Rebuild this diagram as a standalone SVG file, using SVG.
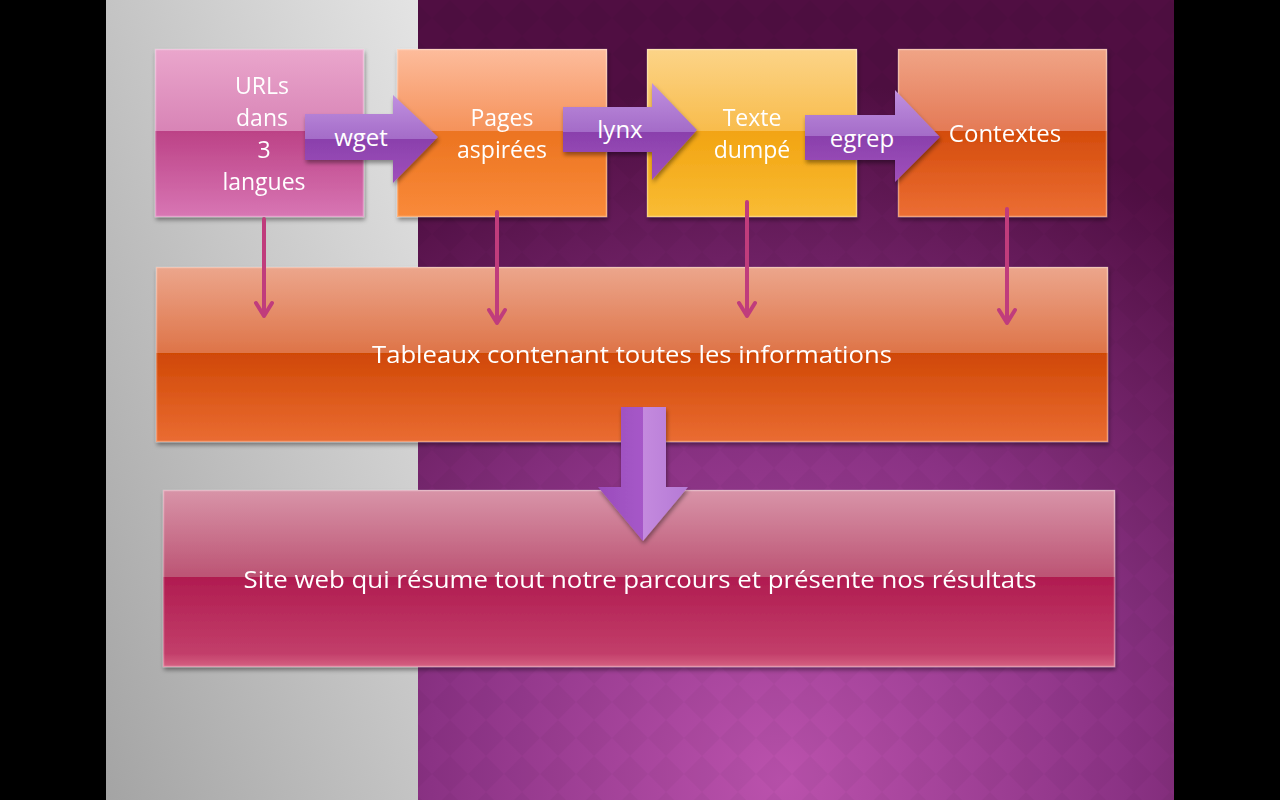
<svg xmlns="http://www.w3.org/2000/svg" width="1280" height="800" viewBox="0 0 1280 800">
<defs>
<style>
.t{font-family:"Open Sans","Lato","Liberation Sans",sans-serif;fill:#ffffff;text-anchor:middle;font-size:24px}
.t1{font-family:"Open Sans","Lato","Liberation Sans",sans-serif;fill:#ffffff;text-anchor:middle;font-size:23px}
.t2{font-family:"Open Sans","Lato","Liberation Sans",sans-serif;fill:#ffffff;text-anchor:middle;font-size:24px}
.conn{stroke:#c03c7c;stroke-width:4;fill:none;stroke-linecap:round;stroke-linejoin:round}
.edge{fill:none;stroke:#ffffff;stroke-opacity:0.35;stroke-width:1.5}
</style>
<linearGradient id="gray" x1="0" y1="1" x2="1" y2="0">
<stop offset="0" stop-color="#a4a4a4"/><stop offset="1" stop-color="#e4e4e4"/>
</linearGradient>
<radialGradient id="purp" cx="780" cy="780" r="700" gradientUnits="userSpaceOnUse">
<stop offset="0" stop-color="#bb52ad"/><stop offset="0.5" stop-color="#8a3284"/><stop offset="1" stop-color="#500e42"/>
</radialGradient>
<pattern id="diam" width="36" height="36" patternUnits="userSpaceOnUse">
<polygon points="18,0 36,18 18,36 0,18" fill="#000" fill-opacity="0.03"/>
</pattern>
<filter id="sh" x="-5%" y="-5%" width="110%" height="115%">
<feDropShadow dx="1" dy="3" stdDeviation="2" flood-color="#000" flood-opacity="0.4"/>
</filter>
<linearGradient id="pinkT" x1="0" y1="0" x2="0" y2="1"><stop offset="0" stop-color="#eaa6cc"/><stop offset="1" stop-color="#d884b6"/></linearGradient>
<linearGradient id="pinkB" x1="0" y1="0" x2="0" y2="1"><stop offset="0" stop-color="#bc4286"/><stop offset="1" stop-color="#d876b4"/></linearGradient>
<linearGradient id="orT" x1="0" y1="0" x2="0" y2="1"><stop offset="0" stop-color="#fdbc9c"/><stop offset="1" stop-color="#f5925a"/></linearGradient>
<linearGradient id="orB" x1="0" y1="0" x2="0" y2="1"><stop offset="0" stop-color="#ec7420"/><stop offset="1" stop-color="#f98a3a"/></linearGradient>
<linearGradient id="yeT" x1="0" y1="0" x2="0" y2="1"><stop offset="0" stop-color="#fcd488"/><stop offset="1" stop-color="#f8bc4c"/></linearGradient>
<linearGradient id="yeB" x1="0" y1="0" x2="0" y2="1"><stop offset="0" stop-color="#f2a412"/><stop offset="1" stop-color="#f9bc34"/></linearGradient>
<linearGradient id="rdT" x1="0" y1="0" x2="0" y2="1"><stop offset="0" stop-color="#f0a486"/><stop offset="1" stop-color="#e47a56"/></linearGradient>
<linearGradient id="rdB" x1="0" y1="0" x2="0" y2="1"><stop offset="0" stop-color="#d44c0c"/><stop offset="1" stop-color="#ec6e34"/></linearGradient>
<linearGradient id="tbT" x1="0" y1="0" x2="0" y2="1"><stop offset="0" stop-color="#eca68c"/><stop offset="1" stop-color="#de7448"/></linearGradient>
<linearGradient id="tbB" x1="0" y1="0" x2="0" y2="1"><stop offset="0" stop-color="#d04806"/><stop offset="1" stop-color="#ea6c32"/></linearGradient>
<linearGradient id="swT" x1="0" y1="0" x2="0" y2="1"><stop offset="0" stop-color="#d894a8"/><stop offset="1" stop-color="#bc5474"/></linearGradient>
<linearGradient id="swB" x1="0" y1="0" x2="0" y2="1"><stop offset="0" stop-color="#b01c50"/><stop offset="0.85" stop-color="#c23e6a"/><stop offset="1" stop-color="#d66282"/></linearGradient>
<linearGradient id="arrH" x1="0" y1="0" x2="0" y2="1"><stop offset="0" stop-color="#c090e0"/><stop offset="0.5" stop-color="#a46cc8"/><stop offset="0.5" stop-color="#8a40ac"/><stop offset="1" stop-color="#a050bc"/></linearGradient>
<linearGradient id="arrV" x1="0" y1="0" x2="1" y2="0"><stop offset="0" stop-color="#9a4cbc"/><stop offset="0.5" stop-color="#a658c8"/><stop offset="0.5" stop-color="#c48ade"/><stop offset="1" stop-color="#b57ad6"/></linearGradient>
</defs>

<rect x="0" y="0" width="1280" height="800" fill="#000"/>
<rect x="106" y="0" width="312" height="800" fill="url(#gray)"/>
<rect x="418" y="0" width="756" height="800" fill="url(#purp)"/>
<rect x="418" y="0" width="756" height="800" fill="url(#diam)"/>

<g id="node-urls" filter="url(#sh)">
<rect x="155" y="49" width="209" height="82" fill="url(#pinkT)"/>
<rect x="155" y="131" width="209" height="86" fill="url(#pinkB)"/>
<rect x="155.5" y="49.5" width="208" height="167" class="edge"/>
<text class="t1"><tspan x="262" y="94">URLs</tspan><tspan x="262" y="126">dans</tspan><tspan x="264" y="158">3</tspan><tspan x="264" y="190">langues</tspan></text>
</g>

<g id="node-pages" filter="url(#sh)">
<rect x="397" y="49" width="210" height="82" fill="url(#orT)"/>
<rect x="397" y="131" width="210" height="86" fill="url(#orB)"/>
<rect x="397.5" y="49.5" width="209" height="167" class="edge"/>
<text class="t1"><tspan x="502" y="126">Pages</tspan><tspan x="502" y="158">aspirées</tspan></text>
</g>

<g id="node-texte" filter="url(#sh)">
<rect x="647" y="49" width="210" height="82" fill="url(#yeT)"/>
<rect x="647" y="131" width="210" height="86" fill="url(#yeB)"/>
<rect x="647.5" y="49.5" width="209" height="167" class="edge"/>
<text class="t1"><tspan x="752" y="126">Texte</tspan><tspan x="752" y="158">dumpé</tspan></text>
</g>

<g id="node-contextes" filter="url(#sh)">
<rect x="898" y="49" width="209" height="82" fill="url(#rdT)"/>
<rect x="898" y="131" width="209" height="86" fill="url(#rdB)"/>
<rect x="898.5" y="49.5" width="208" height="167" class="edge"/>
<text class="t" x="1005" y="142">Contextes</text>
</g>

<g id="node-tableaux" filter="url(#sh)">
<rect x="156" y="267" width="952" height="86" fill="url(#tbT)"/>
<rect x="156" y="353" width="952" height="89" fill="url(#tbB)"/>
<rect x="156.5" y="267.5" width="951" height="174" class="edge"/>
<text class="t2" x="632" y="363" textLength="520" lengthAdjust="spacingAndGlyphs">Tableaux contenant toutes les informations</text>
</g>

<g id="node-site" filter="url(#sh)">
<rect x="163" y="490" width="952" height="87" fill="url(#swT)"/>
<rect x="163" y="577" width="952" height="90" fill="url(#swB)"/>
<rect x="163.5" y="490.5" width="951" height="176" class="edge"/>
<text class="t2" x="640" y="588" textLength="793" lengthAdjust="spacingAndGlyphs">Site web qui résume tout notre parcours et présente nos résultats</text>
</g>

<g id="connectors">
<path class="conn" d="M264,219 V316 M256,303 L264,316 L272,303"/>
<path class="conn" d="M497,212 V323 M489,310 L497,323 L505,310"/>
<path class="conn" d="M747,202 V316 M739,303 L747,316 L755,303"/>
<path class="conn" d="M1007,209 V323 M999,310 L1007,323 L1015,310"/>
<g filter="url(#sh)">
<polygon points="305,114 393,114 393,95 438,137 393,183 393,160 305,160" fill="url(#arrH)"/>
<polygon points="563,107 652,107 652,83 697,130 652,180 652,152 563,152" fill="url(#arrH)"/>
<polygon points="805,115 895,115 895,90 940,137 895,182 895,160 805,160" fill="url(#arrH)"/>
<polygon points="621,407 666,407 666,487 688,487 643,541 598,487 621,487" fill="url(#arrV)"/>
</g>
<text class="t" x="361" y="146">wget</text>
<text class="t" x="620" y="138">lynx</text>
<text class="t" x="862" y="147">egrep</text>
</g>
</svg>
